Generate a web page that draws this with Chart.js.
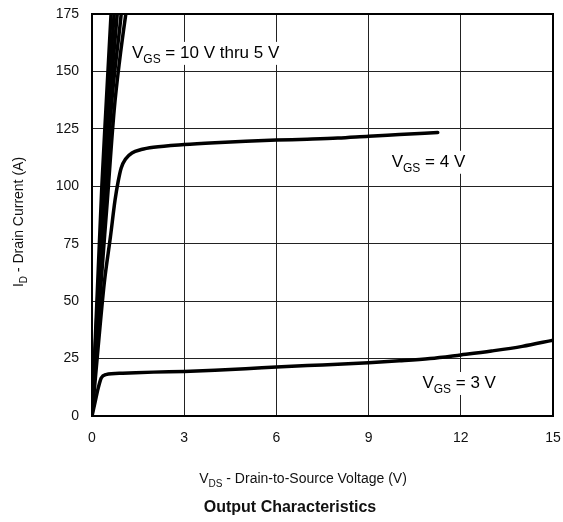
<!DOCTYPE html>
<html>
<head>
<meta charset="utf-8">
<script src="https://cdn.jsdelivr.net/npm/chart.js@4.4.0/dist/chart.umd.min.js"></script>
<style>
  html, body { margin: 0; padding: 0; background: #fff; }
  #wrap { width: 563px; height: 522px; position: relative; }
</style>
</head>
<body>
<div id="wrap"><canvas id="outputChart" width="563" height="522"></canvas></div>
<script>
/* ===========================
   Output characteristics — ID vs VDS
   =========================== */

const X_TICKS = [0, 3, 6, 9, 12, 15];
const Y_TICKS = [0, 25, 50, 75, 100, 125, 150, 175];

// VGS = 10 V thru 5 V (steep bundle near the origin)
const VGS10_X = [0, 0.16, 0.32, 0.45, 0.62, 0.66];
const VGS10_Y = [0, 50, 100, 133, 175, 185];
const VGS8_X = [0, 0.18, 0.36, 0.5, 0.72, 0.77];
const VGS8_Y = [0, 50, 98, 133, 175, 185];
const VGS7_X = [0, 0.2, 0.4, 0.56, 0.82, 0.88];
const VGS7_Y = [0, 50, 97, 133, 175, 185];
const VGS6_X = [0, 0.22, 0.44, 0.62, 0.95, 1.02];
const VGS6_Y = [0, 50, 95, 133, 175, 185];
const VGS5_X = [0, 0.25, 0.5, 0.72, 0.9, 1.1, 1.2];
const VGS5_Y = [0, 50, 94, 133, 155, 175, 184];

// VGS = 4 V
const VGS4_X = [0, 0.2, 0.4, 0.6, 0.75, 0.85, 0.95, 1.1, 1.3, 1.6, 2, 3, 4, 5, 6, 7, 8, 9, 10, 11.25];
const VGS4_Y = [0, 30, 58, 78, 94, 102, 108, 112, 114.5, 116, 117, 118.2, 119, 119.6, 120.1, 120.5, 121, 121.8, 122.5, 123.4];

// VGS = 3 V
const VGS3_X = [0, 0.1, 0.2, 0.3, 0.45, 1, 2, 3, 4, 5, 6, 7, 8, 9, 10, 11, 12, 13, 14, 15];
const VGS3_Y = [0, 6, 12, 16.5, 18, 18.6, 19.1, 19.4, 19.9, 20.6, 21.3, 22, 22.5, 23.2, 24, 25, 26.6, 28.3, 30.3, 33];

const FONT = "'Liberation Sans', Arial, Helvetica, sans-serif";

function toPoints(xs, ys) {
  return xs.map((x, i) => ({ x: x, y: ys[i] }));
}

function curve(label, xs, ys) {
  return {
    label: label,
    data: toPoints(xs, ys),
    borderColor: '#000',
    borderWidth: 3.5,
    pointRadius: 0,
    fill: false,
    cubicInterpolationMode: 'monotone',
    borderCapStyle: 'round',
    borderJoinStyle: 'round',
  };
}

// draw a run of text pieces, some as subscripts
function drawParts(ctx, parts, x, y, size, align, bold) {
  const subSize = Math.round(size * 0.7);
  const mainFont = (bold ? 'bold ' : '') + size + 'px ' + FONT;
  const subFont = (bold ? 'bold ' : '') + subSize + 'px ' + FONT;
  let total = 0;
  parts.forEach(p => {
    ctx.font = p.sub ? subFont : mainFont;
    total += ctx.measureText(p.t).width;
  });
  let cx = x;
  if (align === 'center') cx = x - total / 2;
  ctx.textAlign = 'left';
  ctx.textBaseline = 'alphabetic';
  parts.forEach(p => {
    ctx.font = p.sub ? subFont : mainFont;
    ctx.fillText(p.t, cx, p.sub ? y + size * 0.28 : y);
    cx += ctx.measureText(p.t).width;
  });
  return total;
}

function measureParts(ctx, parts, size) {
  const subSize = Math.round(size * 0.7);
  let total = 0;
  parts.forEach(p => {
    ctx.font = (p.sub ? subSize : size) + 'px ' + FONT;
    total += ctx.measureText(p.t).width;
  });
  return total;
}

const LABELS = [
  { parts: [{ t: 'V' }, { t: 'GS', sub: true }, { t: ' = 10 V thru 5 V' }], vds: 1.3, id: 155.9 },
  { parts: [{ t: 'V' }, { t: 'GS', sub: true }, { t: ' = 4 V' }], vds: 9.75, id: 108.5 },
  { parts: [{ t: 'V' }, { t: 'GS', sub: true }, { t: ' = 3 V' }], vds: 10.75, id: 12.2 },
];

const decorPlugin = {
  id: 'decor',
  afterDatasetsDraw(chart) {
    const { ctx, chartArea: a, scales } = chart;
    ctx.save();
    ctx.fillStyle = '#000';
    LABELS.forEach(l => {
      const px = scales.x.getPixelForValue(l.vds);
      const py = scales.y.getPixelForValue(l.id);
      const w = measureParts(ctx, l.parts, 17);
      ctx.fillStyle = '#fff';
      ctx.fillRect(px - 4, py - 16, w + 8, 23);
      ctx.fillStyle = '#000';
      drawParts(ctx, l.parts, px, py, 17, 'left', false);
    });
    // frame
    ctx.strokeStyle = '#000';
    ctx.lineWidth = 2;
    ctx.strokeRect(a.left, a.top, a.right - a.left, a.bottom - a.top);
    ctx.restore();
  },
  afterDraw(chart) {
    const { ctx, chartArea: a } = chart;
    ctx.save();
    ctx.fillStyle = '#111';
    // x axis title
    drawParts(ctx, [{ t: 'V' }, { t: 'DS', sub: true }, { t: ' - Drain-to-Source Voltage (V)' }],
      303, 483, 14, 'center', false);
    // main title
    drawParts(ctx, [{ t: 'Output Characteristics' }], 290, 512, 16, 'center', true);
    // y axis title
    ctx.translate(23, (a.top + a.bottom) / 2 + 7);
    ctx.rotate(-Math.PI / 2);
    drawParts(ctx, [{ t: 'I' }, { t: 'D', sub: true }, { t: ' - Drain Current (A)' }],
      0, 0, 14, 'center', false);
    ctx.restore();
  }
};

const ctx = document.getElementById('outputChart').getContext('2d');
new Chart(ctx, {
  type: 'line',
  data: {
    datasets: [
      curve('VGS = 10 V', VGS10_X, VGS10_Y),
      curve('VGS = 8 V', VGS8_X, VGS8_Y),
      curve('VGS = 7 V', VGS7_X, VGS7_Y),
      curve('VGS = 6 V', VGS6_X, VGS6_Y),
      curve('VGS = 5 V', VGS5_X, VGS5_Y),
      curve('VGS = 4 V', VGS4_X, VGS4_Y),
      curve('VGS = 3 V', VGS3_X, VGS3_Y),
    ]
  },
  options: {
    responsive: false,
    animation: false,
    layout: { padding: { top: 14, right: 10, left: 0, bottom: 0 } },
    plugins: {
      legend: { display: false },
      tooltip: { enabled: false },
    },
    scales: {
      x: {
        type: 'linear',
        min: 0,
        max: 15,
        afterBuildTicks: s => { s.ticks = X_TICKS.map(v => ({ value: v })); },
        afterFit: s => {
          s.height = 106;
          s.paddingLeft = 0;
          s.paddingRight = 0;
        },
        ticks: { padding: 14, color: '#111', font: { family: FONT, size: 14 } },
        grid: { color: '#222', lineWidth: 1, drawTicks: false },
        border: { display: false },
      },
      y: {
        type: 'linear',
        min: 0,
        max: 175,
        afterBuildTicks: s => { s.ticks = Y_TICKS.map(v => ({ value: v })); },
        afterFit: s => {
          s.width = 92;
          s.paddingTop = 0;
          s.paddingBottom = 0;
        },
        ticks: { padding: 13, color: '#111', font: { family: FONT, size: 14 } },
        grid: { color: '#222', lineWidth: 1, drawTicks: false },
        border: { display: false },
      }
    }
  },
  plugins: [decorPlugin]
});
</script>
</body>
</html>
